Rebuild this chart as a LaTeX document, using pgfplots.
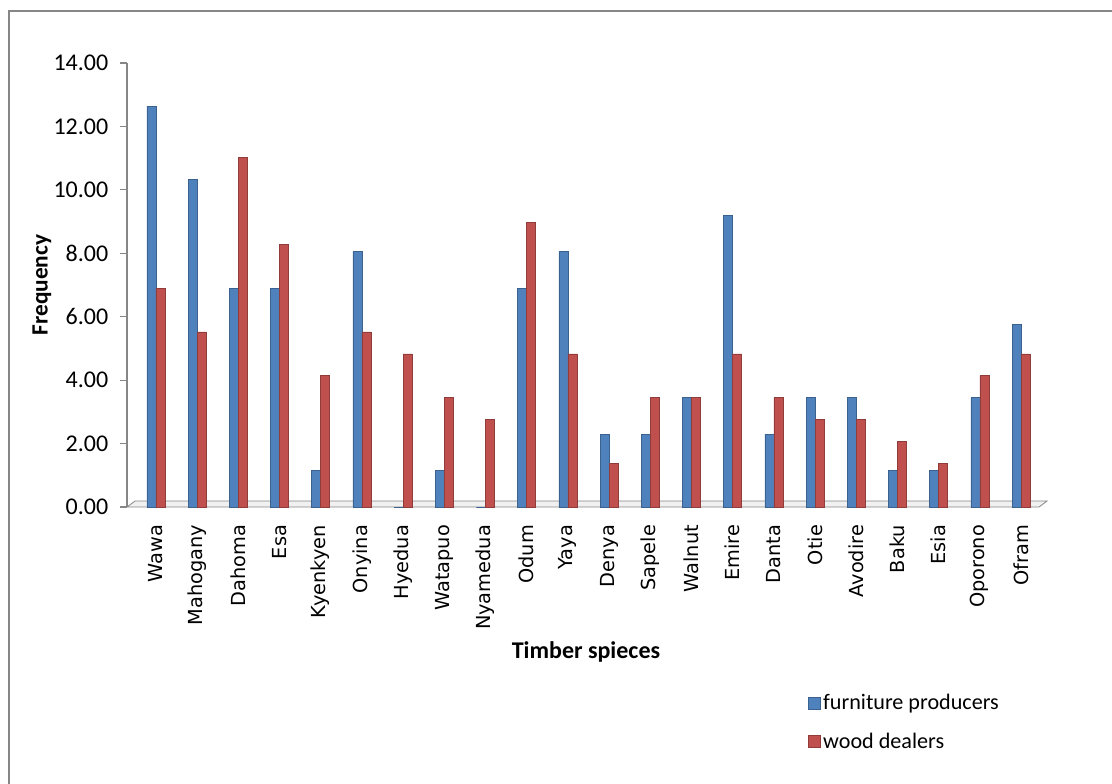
\documentclass[border=0pt]{standalone}
\usepackage{pgfplots}
\pgfplotsset{compat=1.18}
\usepackage{fontspec}
\setmainfont{Carlito}
\newfontfamily\dejavu{DejaVu Sans}
\newcommand\X[1]{{\dejavu\fontsize{14.5}{16}\selectfont #1}}
\definecolor{fp}{HTML}{4F81BD}
\definecolor{wd}{HTML}{C0504D}
\definecolor{axgray}{HTML}{868686}

\begin{document}
\begin{tikzpicture}
\useasboundingbox (0,0) rectangle (834pt,-587.25pt);
\begin{scope}[x=0.75pt,y=-0.75pt]
\draw[axgray, line width=1pt] (9,11) rectangle (1300,900);
\filldraw[draw=axgray, fill=gray!12, line width=0.6pt] (127,507) -- (135,501) -- (1047,501) -- (1039,507) -- cycle;
\node[font=\bfseries\fontsize{17.5}{20}\selectfont, rotate=90] at (42,285) {Frequency};
\node[font=\bfseries\fontsize{18}{20}\selectfont] at (586,652) {Timber spieces};
\end{scope}
\begin{axis}[
  at={(95.25pt,-380.25pt)}, anchor=south west,
  scale only axis, width=686.25pt, height=333pt,
  ybar=0pt, bar width=6.75pt,
  xmin=-0.7, xmax=21.51, ymin=0, ymax=14,
  axis y line=left, axis x line=bottom,
  axis line style={-, draw=axgray, line width=0.8pt},
  x axis line style={draw=none},
  ytick={0,2,...,14},
  major tick length=5.5pt,
  tick align=outside,
  ytick style={draw=axgray, line width=0.8pt},
  yticklabel style={/pgf/number format/.cd, fixed, fixed zerofill, precision=2, assume math mode=true, /tikz/.cd, font=\fontsize{18}{20}\selectfont, xshift=-5pt},
  xtick={0,...,21},
  xticklabels={\X{Wawa},\X{Mahogany},\X{Dahoma},\X{Esa},\X{Kyenkyen},\X{Onyina},\X{Hyedua},\X{Watapuo},\X{Nyamedua},\X{Odum},\X{Yaya},\X{Denya},\X{Sapele},\X{Walnut},\X{Emire},\X{Danta},\X{Otie},\X{Avodire},\X{Baku},\X{Esia},\X{Oporono},\X{Ofram}},
  xticklabel style={rotate=90, anchor=east, xshift=-4.5pt},
  xtick style={draw=none},
  legend style={at={(0.744,-0.485)}, anchor=west, draw=none, fill=none, inner sep=0pt, row sep=12pt, font=\fontsize{16.6}{20}\selectfont, nodes={inner sep=2pt}, /tikz/every even column/.append style={column sep=4pt}},
  legend cell align=left,
  legend image code/.code={\fill[#1] (0pt,-4.5pt) rectangle (9pt,4.5pt);},
  clip=false,
]
\addplot[fill=fp, draw=fp!75!black, line width=0.4pt] coordinates {
(0,12.64) (1,10.34) (2,6.90) (3,6.90) (4,1.15) (5,8.05) (6,0) (7,1.15) (8,0) (9,6.90) (10,8.05)
(11,2.30) (12,2.30) (13,3.45) (14,9.20) (15,2.30) (16,3.45) (17,3.45) (18,1.15) (19,1.15) (20,3.45) (21,5.75)};
\addplot[fill=wd, draw=wd!75!black, line width=0.4pt] coordinates {
(0,6.90) (1,5.52) (2,11.03) (3,8.28) (4,4.14) (5,5.52) (6,4.83) (7,3.45) (8,2.76) (9,8.97) (10,4.83)
(11,1.38) (12,3.45) (13,3.45) (14,4.83) (15,3.45) (16,2.76) (17,2.76) (18,2.07) (19,1.38) (20,4.14) (21,4.83)};
\legend{furniture producers, wood dealers}
\end{axis}
\end{tikzpicture}
\end{document}
